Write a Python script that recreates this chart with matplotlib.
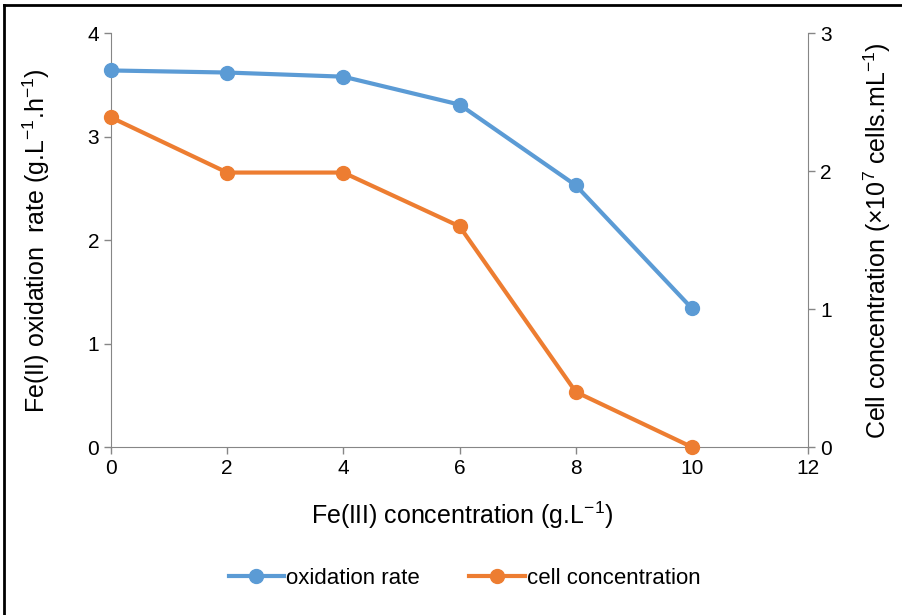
import matplotlib
matplotlib.use("Agg")
import matplotlib.pyplot as plt
from matplotlib.lines import Line2D

plt.rcParams["font.family"] = "Liberation Sans"
plt.rcParams["mathtext.default"] = "regular"

fe3_conc = [0, 2, 4, 6, 8, 10]
oxidation_rate = [3.64, 3.62, 3.58, 3.31, 2.53, 1.34]
cell_conc = [2.39, 1.99, 1.99, 1.60, 0.40, 0.0]

BLUE = "#5B9BD5"
ORANGE = "#ED7D31"
SPINE = "#868686"

fig = plt.figure(figsize=(9.02, 6.15), dpi=100)
ax = fig.add_axes([0.123, 0.273, 0.773, 0.673])
ax2 = ax.twinx()

l1, = ax.plot(fe3_conc, oxidation_rate, color=BLUE, lw=3, marker="o", ms=10,
              label="oxidation rate", clip_on=False, zorder=3)
l2, = ax2.plot(fe3_conc, cell_conc, color=ORANGE, lw=3, marker="o", ms=10,
               label="cell concentration", clip_on=False, zorder=3)

ax.set_xlim(0, 12)
ax.set_xticks(range(0, 13, 2))
ax.set_ylim(0, 4)
ax.set_yticks(range(0, 5))
ax2.set_ylim(0, 3)
ax2.set_yticks(range(0, 4))

for a in (ax, ax2):
    a.spines["top"].set_visible(False)
    for s in ("left", "right", "bottom"):
        a.spines[s].set_color(SPINE)
    a.tick_params(colors="black", labelsize=15, length=5, width=1)
    a.tick_params(color=SPINE)
ax.spines["right"].set_visible(False)
ax2.spines["left"].set_visible(False)
ax2.spines["bottom"].set_visible(False)

ax.set_xlabel("Fe(III) concentration (g.L$^{-1}$)", fontsize=18)
ax.set_ylabel("Fe(II) oxidation  rate (g.L$^{-1}$.h$^{-1}$)", fontsize=18)
ax2.set_ylabel("Cell concentration (×10$^{7}$ cells.mL$^{-1}$)", fontsize=18)
ax.xaxis.set_label_coords(0.504, -0.128)
ax.yaxis.set_label_coords(-0.085, 0.5)
ax2.yaxis.set_label_coords(1.077, 0.5)

fig.legend(handles=[l1, l2], loc="center", bbox_to_anchor=(0.515, 0.06), ncol=2,
           frameon=False, fontsize=16, handlelength=2.5, columnspacing=2.2,
           handletextpad=0.1)

# outer frame (left and top edges)
fig.add_artist(Line2D([0.004, 0.004], [0, 0.992], transform=fig.transFigure,
                      color="black", lw=2))
fig.add_artist(Line2D([0.004, 1.0], [0.992, 0.992], transform=fig.transFigure,
                      color="black", lw=2))

fig.savefig("out.png", dpi=100, facecolor="white")
